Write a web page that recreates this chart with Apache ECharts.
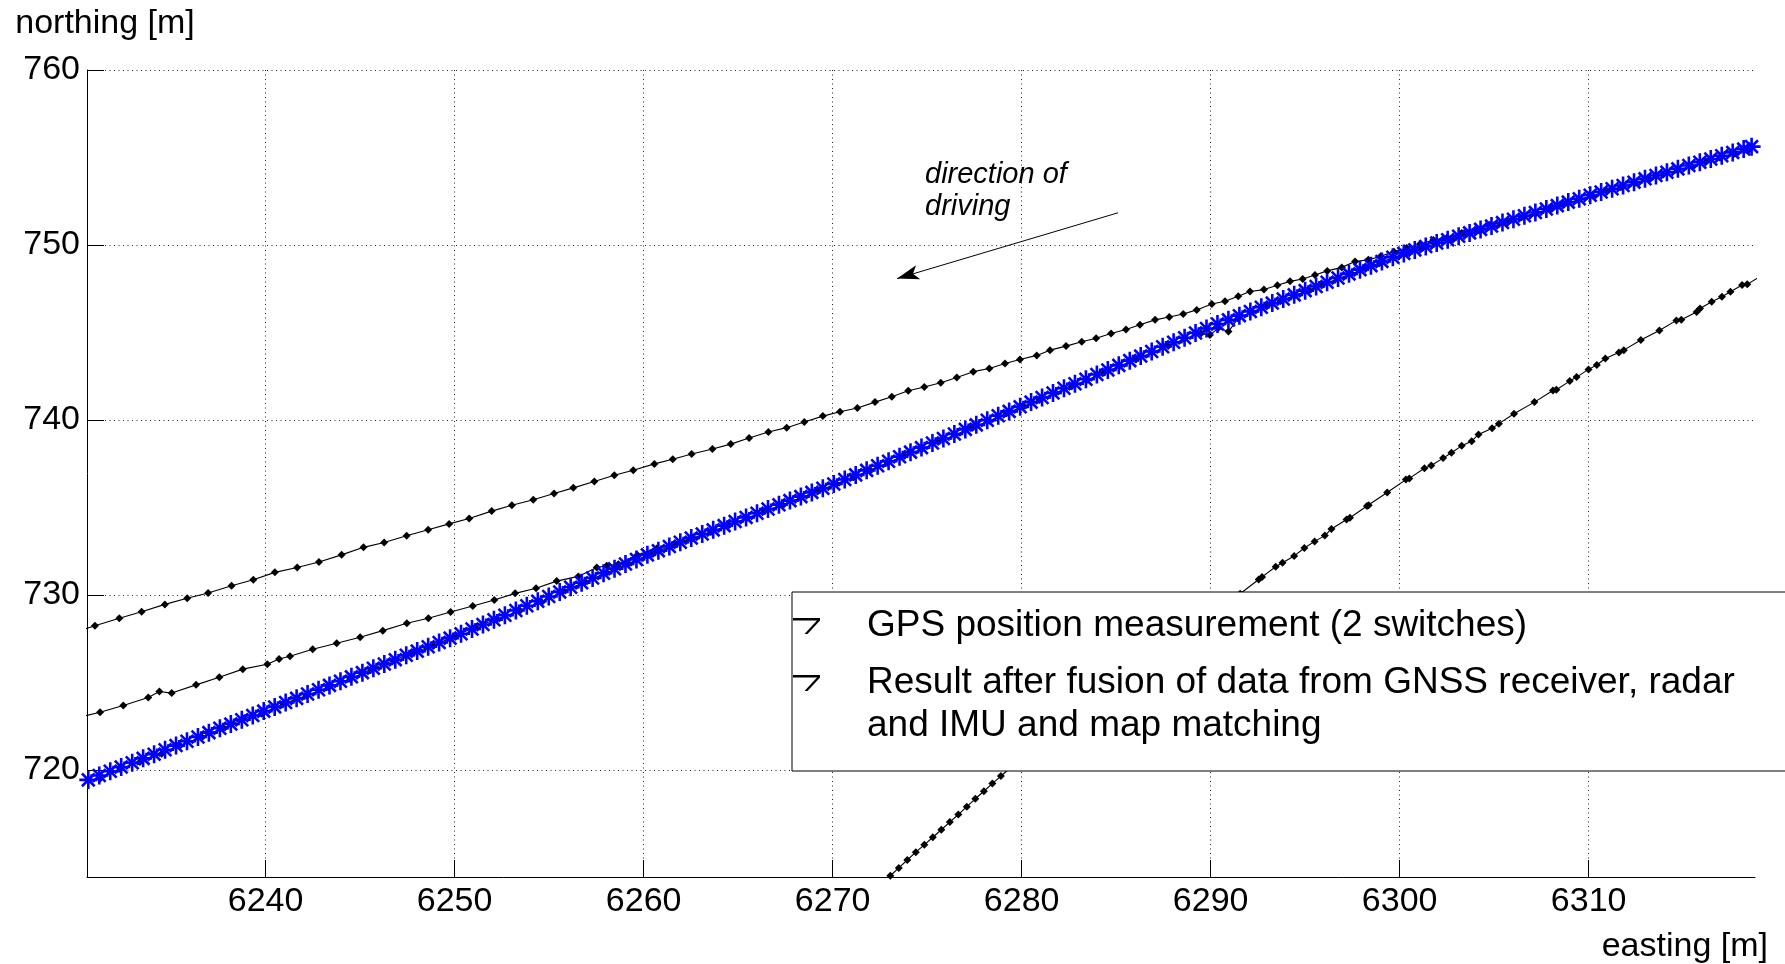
<!DOCTYPE html>
<html>
<head>
<meta charset="utf-8">
<script src="https://cdn.jsdelivr.net/npm/echarts@6.0.0/dist/echarts.min.js"></script>
<style>
html,body{margin:0;padding:0;background:#fff;}
#chart{width:1785px;height:964px;}
</style>
</head>
<body>
<div id="chart"></div>
<script>
// ---------------- data ----------------
const xTicks = [6240, 6250, 6260, 6270, 6280, 6290, 6300, 6310];
const yTicks = [720, 730, 740, 750, 760];

const gpsName = 'GPS position measurement (2 switches)';
const fusionLegendLines = ['Result after fusion of data from GNSS receiver, radar', 'and IMU and map matching'];
const fusionName = fusionLegendLines.join(' ');
const annotationText = ['direction of', 'driving'];
const arrowFrom = [6285.10, 751.84];
const arrowTo = [6273.41, 748.08];

// GPS track A (upper, drifting track)
const gpsA_x = [6230.30, 6230.97, 6232.26, 6233.44, 6234.67, 6235.85, 6236.96, 6238.20, 6239.35, 6240.49, 6241.67, 6242.82, 6244.02, 6245.18, 6246.27, 6247.46, 6248.60, 6249.71, 6250.77, 6251.96, 6253.03, 6254.16, 6255.26,
  6256.28, 6257.39, 6258.45, 6259.45, 6260.57, 6261.54, 6262.54, 6263.64, 6264.61, 6265.58, 6266.60, 6267.57, 6268.50, 6269.48, 6270.39, 6271.31, 6272.24, 6273.13, 6274.00, 6274.85, 6275.72, 6276.57, 6277.44, 6278.29, 6279.12, 6279.91, 6280.80, 6281.50,
  6282.35, 6283.18, 6283.94, 6284.73, 6285.52, 6286.26, 6287.06, 6287.81, 6288.55, 6289.26, 6290.06, 6290.76, 6291.46, 6292.08, 6292.82, 6293.53, 6294.20, 6294.87, 6295.52, 6296.17, 6296.94, 6297.64, 6298.34, 6299.00, 6299.70, 6300.37, 6301.08, 6301.78,
  6302.49, 6303.28, 6304.08, 6304.78];
const gpsA_y = [728.00, 728.24, 728.67, 729.04, 729.46, 729.81, 730.11, 730.53, 730.87, 731.29, 731.57, 731.88, 732.29, 732.72, 733.00, 733.38, 733.72, 734.06, 734.37, 734.79, 735.13, 735.44, 735.80,
  736.12, 736.48, 736.84, 737.13, 737.49, 737.75, 738.05, 738.34, 738.62, 738.97, 739.31, 739.56, 739.88, 740.22, 740.47, 740.68, 741.02, 741.33, 741.67, 741.88, 742.13, 742.43, 742.76, 742.94, 743.23, 743.46, 743.69, 743.99,
  744.22, 744.47, 744.67, 744.94, 745.17, 745.44, 745.72, 745.88, 746.06, 746.29, 746.63, 746.78, 747.07, 747.34, 747.45, 747.70, 747.92, 748.06, 748.29, 748.52, 748.72, 749.05, 749.16, 749.35, 749.62, 749.83, 750.06, 750.29,
  750.40, 750.68, 750.87, 751.16];

// GPS track B (middle, merges into the road near 6262)
const gpsB_x = [6230.30, 6231.24, 6232.47, 6233.79, 6234.38, 6235.03, 6236.32, 6237.55, 6238.79, 6240.09, 6240.71, 6241.29, 6242.49, 6243.76, 6245.00, 6246.20, 6247.47, 6248.61, 6249.79, 6250.96, 6252.10, 6253.20, 6254.31, 6255.40,
  6256.54, 6257.52, 6258.05, 6258.66, 6259.67, 6260.69, 6261.66, 6262.60];
const gpsB_y = [723.05, 723.30, 723.68, 724.14, 724.48, 724.39, 724.86, 725.30, 725.76, 726.04, 726.34, 726.50, 726.90, 727.24, 727.58, 727.96, 728.38, 728.67, 729.02, 729.37, 729.71, 730.09, 730.38, 730.79,
  731.06, 731.57, 731.67, 731.76, 732.28, 732.66, 732.96, 733.25];

// GPS track C (lower right)
const gpsC_x = [6272.60, 6273.05, 6273.50, 6273.95, 6274.40, 6274.85, 6275.30, 6275.75, 6276.20, 6276.65, 6277.10, 6277.55, 6278.00, 6278.45, 6278.90,
  6280.50, 6282.50, 6284.50, 6286.50, 6288.50, 6290.50,
  6291.56, 6292.54, 6292.72, 6293.44, 6293.80, 6294.42, 6294.96, 6295.50, 6296.04, 6296.39, 6297.19, 6297.37, 6298.27, 6298.36, 6299.34, 6300.33, 6300.51, 6301.31, 6301.67, 6302.30,
  6302.74, 6303.28, 6303.81, 6304.17, 6304.89, 6305.25, 6306.05, 6307.13, 6308.11, 6308.29, 6309.00, 6309.36, 6309.99, 6310.43, 6310.88, 6311.60, 6311.86, 6312.76, 6313.74, 6314.64,
  6314.90, 6315.71, 6315.89, 6316.51, 6317.05, 6317.50, 6318.12, 6318.39, 6319.00];
const gpsC_y = [713.50, 713.95, 714.40, 714.85, 715.30, 715.72, 716.15, 716.58, 717.02, 717.45, 717.90, 718.35, 718.78, 719.22, 719.65,
  721.10, 722.80, 724.40, 726.00, 727.60, 729.20,
  730.07, 730.88, 731.03, 731.61, 731.84, 732.23, 732.68, 733.06, 733.39, 733.77, 734.31, 734.41, 735.08, 735.12, 735.85, 736.59, 736.66, 737.24, 737.40, 737.82,
  738.13, 738.52, 738.79, 739.17, 739.52, 739.79, 740.35, 741.02, 741.68, 741.73, 742.22, 742.45, 742.89, 743.14, 743.51, 743.86, 743.99, 744.57, 745.11, 745.69,
  745.73, 746.17, 746.37, 746.75, 747.04, 747.33, 747.71, 747.75, 748.15];

// GPS track D (on the road, under the fused result)
const gpsD_x = [6230.30, 6231.24, 6232.30, 6233.35, 6234.50, 6235.47, 6236.62, 6237.76, 6238.82, 6239.80, 6240.94, 6242.17, 6243.32, 6244.47, 6245.61, 6246.76, 6247.81, 6248.87, 6250.02, 6251.08, 6252.23, 6253.46, 6254.61,
  6255.75, 6256.90, 6258.05, 6259.20, 6260.35, 6261.50,
  6262.60, 6263.55, 6264.50, 6265.45, 6266.40, 6267.35, 6268.30, 6269.25, 6270.20, 6271.10, 6272.00, 6272.90, 6273.80, 6274.70, 6275.60, 6276.50, 6277.40, 6278.30, 6279.20, 6280.10,
  6280.95, 6281.80, 6282.65, 6283.50, 6284.35, 6285.20, 6286.05, 6286.90, 6287.75, 6288.60, 6289.50, 6289.96, 6290.40, 6290.94, 6291.45,
  6292.20, 6292.95, 6293.70, 6294.45, 6295.20, 6295.95, 6296.70, 6297.45, 6298.20, 6298.95, 6299.70, 6300.45, 6301.20, 6301.95, 6302.70, 6303.45, 6304.20, 6304.95, 6305.70, 6306.45, 6307.20,
  6307.95, 6308.70, 6309.45, 6310.20, 6310.95, 6311.70, 6312.45, 6313.20, 6313.95, 6314.70, 6315.45, 6316.20, 6316.95, 6317.70, 6318.45];
const gpsD_y = [719.25, 719.50, 720.05, 720.45, 720.92, 721.40, 721.88, 722.40, 722.92, 723.21, 723.78, 724.25, 724.73, 725.20, 725.77, 726.25, 726.73, 727.10, 727.67, 728.15, 728.63, 729.10, 729.58,
  730.22, 730.74, 731.28, 731.80, 732.34, 732.83,
  733.25, 733.60, 734.00, 734.38, 734.80, 735.15, 735.55, 735.95, 736.35, 736.72, 737.12, 737.55, 737.95, 738.33, 738.75, 739.15, 739.55, 739.95, 740.38, 740.78,
  741.15, 741.55, 741.92, 742.30, 742.70, 743.08, 743.45, 743.85, 744.22, 744.62, 744.95, 744.85, 745.25, 745.05, 745.80,
  746.18, 746.50, 746.80, 747.12, 747.42, 747.74, 748.05, 748.36, 748.66, 748.98, 749.30, 749.58, 749.84, 750.10, 750.36, 750.60, 750.84, 751.08, 751.33, 751.58, 751.82,
  752.07, 752.32, 752.58, 752.83, 753.07, 753.30, 753.55, 753.78, 754.03, 754.27, 754.50, 754.74, 754.98, 755.22, 755.42];

// Fused result (blue asterisks)
const fusion_x = [
  6230.62, 6231.20, 6231.78, 6232.36, 6232.94, 6233.52, 6234.10, 6234.68, 6235.26, 6235.84, 6236.42, 6237.00, 6237.58, 6238.16, 6238.74, 6239.32, 6239.90,
  6240.48, 6241.06, 6241.64, 6242.22, 6242.80, 6243.38, 6243.96, 6244.54, 6245.12, 6245.70, 6246.28, 6246.86, 6247.44, 6248.02, 6248.60, 6249.18, 6249.76,
  6250.34, 6250.92, 6251.50, 6252.08, 6252.66, 6253.24, 6253.82, 6254.40, 6254.98, 6255.56, 6256.14, 6256.72, 6257.30, 6257.88, 6258.46, 6259.04, 6259.62,
  6260.20, 6260.78, 6261.36, 6261.94, 6262.52, 6263.10, 6263.68, 6264.26, 6264.84, 6265.42, 6266.00, 6266.58, 6267.16, 6267.74, 6268.32, 6268.90, 6269.48,
  6270.06, 6270.64, 6271.22, 6271.80, 6272.38, 6272.96, 6273.54, 6274.12, 6274.70, 6275.28, 6275.86, 6276.44, 6277.02, 6277.60, 6278.18, 6278.76, 6279.34, 6279.92,
  6280.50, 6281.08, 6281.66, 6282.24, 6282.82, 6283.40, 6283.98, 6284.56, 6285.14, 6285.72, 6286.30, 6286.88, 6287.46, 6288.04, 6288.62, 6289.20, 6289.78,
  6290.36, 6290.94, 6291.52, 6292.10, 6292.68, 6293.26, 6293.84, 6294.42, 6295.00, 6295.58, 6296.16, 6296.74, 6297.32, 6297.90, 6298.48, 6299.06, 6299.64,
  6300.22, 6300.80, 6301.38, 6301.96, 6302.54, 6303.12, 6303.70, 6304.28, 6304.86, 6305.44, 6306.02, 6306.60, 6307.18, 6307.76, 6308.34, 6308.92, 6309.50,
  6310.08, 6310.66, 6311.24, 6311.82, 6312.40, 6312.98, 6313.56, 6314.14, 6314.72, 6315.30, 6315.88, 6316.46, 6317.04, 6317.62, 6318.20, 6318.62];
const fusion_y = [
  719.43, 719.68, 719.92, 720.17, 720.41, 720.66, 720.90, 721.15, 721.39, 721.64, 721.88, 722.13, 722.38, 722.62, 722.87, 723.11, 723.36,
  723.60, 723.85, 724.09, 724.34, 724.58, 724.83, 725.07, 725.32, 725.56, 725.81, 726.05, 726.30, 726.55, 726.79, 727.04, 727.28, 727.53,
  727.78, 728.05, 728.31, 728.58, 728.84, 729.11, 729.38, 729.64, 729.91, 730.17, 730.44, 730.70, 730.97, 731.24, 731.50, 731.77, 732.03,
  732.29, 732.53, 732.77, 733.01, 733.25, 733.48, 733.72, 733.96, 734.20, 734.43, 734.67, 734.91, 735.15, 735.39, 735.62, 735.86, 736.10,
  736.34, 736.60, 736.86, 737.12, 737.38, 737.64, 737.90, 738.16, 738.42, 738.68, 738.94, 739.20, 739.46, 739.72, 739.98, 740.24, 740.49, 740.75,
  741.02, 741.28, 741.54, 741.81, 742.07, 742.33, 742.60, 742.86, 743.12, 743.39, 743.65, 743.91, 744.18, 744.44, 744.70, 744.97, 745.23,
  745.48, 745.72, 745.96, 746.20, 746.44, 746.68, 746.91, 747.15, 747.39, 747.63, 747.87, 748.11, 748.35, 748.59, 748.82, 749.06, 749.30,
  749.52, 749.72, 749.91, 750.11, 750.30, 750.50, 750.69, 750.89, 751.08, 751.28, 751.47, 751.67, 751.86, 752.06, 752.25, 752.45, 752.64,
  752.84, 753.03, 753.21, 753.40, 753.59, 753.78, 753.97, 754.16, 754.35, 754.54, 754.73, 754.91, 755.10, 755.29, 755.48, 755.62];

// ---------------- chart ----------------
function zip(xs, ys) {
  const n = Math.min(xs.length, ys.length);
  const out = [];
  for (let i = 0; i < n; i++) out.push([xs[i], ys[i]]);
  return out;
}

const FONT = "'Liberation Sans', Arial, Helvetica, sans-serif";
const ICON7 = 'path://M0,0L27,0L27,2.5L14.5,16L11.5,16L24,2.5L0,2.5Z';
const ASTERISK = 'path://M10,0L10,20M0,10L20,10M2.93,2.93L17.07,17.07M2.93,17.07L17.07,2.93';

function gpsSeries(xs, ys) {
  return {
    type: 'line',
    name: gpsName,
    data: zip(xs, ys),
    z: 2,
    symbol: 'diamond',
    symbolSize: 8,
    showSymbol: true,
    showAllSymbol: true,
    clip: true,
    silent: true,
    animation: false,
    lineStyle: { color: '#000', width: 1.1 },
    itemStyle: { color: '#000', borderWidth: 0 },
    emphasis: { disabled: true }
  };
}

const chart = echarts.init(document.getElementById('chart'), null, { renderer: 'canvas' });

const option = {
  animation: false,
  backgroundColor: '#fff',
  grid: { left: 87, right: 30, top: 70, bottom: 86 },
  xAxis: {
    type: 'value',
    min: 6230.55,
    max: 6318.8,
    splitNumber: 9,
    name: 'easting [m]',
    nameLocation: 'end',
    nameGap: 13,
    nameTextStyle: { fontFamily: FONT, fontSize: 34, color: '#000', align: 'right', verticalAlign: 'top', padding: [53, 0, 0, 0] },
    axisLine: { show: true, onZero: false, lineStyle: { color: '#000', width: 1 } },
    axisTick: { show: true, inside: true, length: 17, customValues: xTicks, lineStyle: { color: '#000', width: 1 } },
    axisLabel: { customValues: xTicks, formatter: v => String(v), fontFamily: FONT, fontSize: 34, color: '#000', margin: 8 },
    splitLine: { show: true, lineStyle: { color: '#222', width: 1, type: [1, 3.5] } }
  },
  yAxis: {
    type: 'value',
    min: 713.88,
    max: 760,
    splitNumber: 5,
    name: 'northing [m]',
    nameLocation: 'end',
    nameGap: 46,
    nameTextStyle: { fontFamily: FONT, fontSize: 34, color: '#000', align: 'center', verticalAlign: 'middle', padding: [0, 0, 0, 36] },
    axisLine: { show: true, lineStyle: { color: '#000', width: 1 } },
    axisTick: { show: true, inside: true, length: 17, customValues: yTicks, lineStyle: { color: '#000', width: 1 } },
    axisLabel: { customValues: yTicks, formatter: v => String(v), fontFamily: FONT, fontSize: 34, color: '#000', margin: 7 },
    splitLine: { show: true, lineStyle: { color: '#222', width: 1, type: [1, 3.5] } }
  },
  legend: {
    orient: 'vertical',
    left: 792,
    top: 592,
    padding: [12.5, 100, 23.5, 1],
    itemGap: -29,
    itemWidth: 27,
    itemHeight: 16,
    backgroundColor: '#fff',
    borderColor: '#000',
    borderWidth: 1,
    borderRadius: 0,
    selectedMode: false,
    z: 10,
    data: [
      { name: gpsName, icon: ICON7 },
      { name: fusionName, icon: ICON7 }
    ],
    itemStyle: { color: '#000', borderColor: '#000', borderWidth: 0 },
    textStyle: { fontFamily: FONT, fontSize: 37, color: '#000', lineHeight: 43, padding: [0, 0, 0, 42] },
    formatter: function (name) {
      return name === fusionName ? '\n' + fusionLegendLines.join('\n') : name;
    }
  },
  graphic: [{
    type: 'text',
    left: 925,
    top: 159,
    z: 20,
    silent: true,
    style: {
      text: annotationText.join('\n'),
      fontFamily: FONT,
      fontStyle: 'italic',
      fontSize: 29,
      lineHeight: 32,
      fill: '#000'
    }
  }],
  series: [
    gpsSeries(gpsA_x, gpsA_y),
    gpsSeries(gpsB_x, gpsB_y),
    gpsSeries(gpsC_x, gpsC_y),
    gpsSeries(gpsD_x, gpsD_y),
    {
      type: 'scatter',
      name: fusionName,
      data: zip(fusion_x, fusion_y),
      z: 3,
      symbol: ASTERISK,
      symbolSize: 18,
      clip: true,
      silent: true,
      animation: false,
      itemStyle: { color: '#0000ff', borderColor: '#0000ff', borderWidth: 2.6, opacity: 1 },
      emphasis: { disabled: true },
      markLine: {
        silent: true,
        animation: false,
        symbol: ['none', 'arrow'],
        symbolSize: [11, 22],
        label: { show: false },
        lineStyle: { color: '#000', width: 1, type: 'solid' },
        emphasis: { disabled: true },
        data: [[{ coord: arrowFrom }, { coord: arrowTo }]]
      }
    }
  ]
};

chart.setOption(option);
</script>
</body>
</html>
